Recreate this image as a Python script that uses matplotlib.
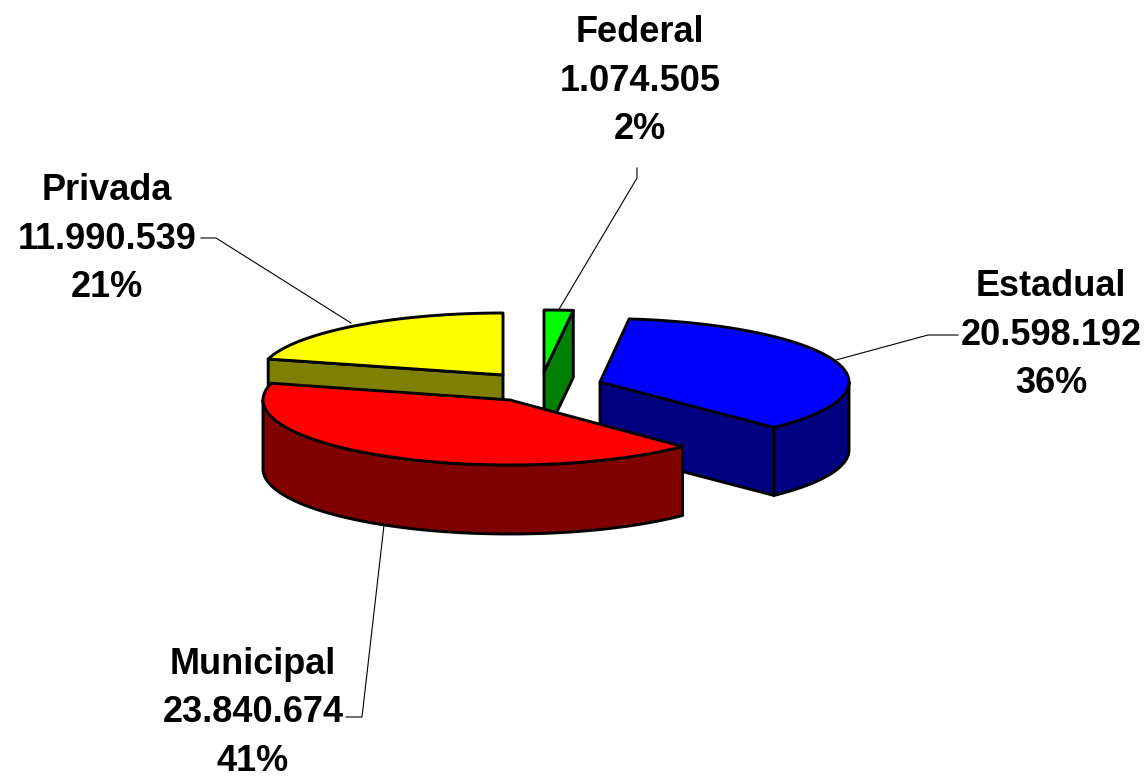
import numpy as np
import matplotlib
matplotlib.use("Agg")
import matplotlib.pyplot as plt
from matplotlib.patches import Polygon

categories = ["Federal", "Estadual", "Municipal", "Privada"]
values = [1074505, 20598192, 23840674, 11990539]

top_colors = ["#00FF00", "#0000FF", "#FF0000", "#FFFF00"]
side_colors = ["#008000", "#000080", "#800000", "#808000"]

# slice geometry in pixels: apex x, apex y, radius x, radius y, depth
geometry = {
    "Federal": (544, 372, 250, 62, 67),
    "Estadual": (600, 382, 249, 63.5, 68),
    "Municipal": (510, 400, 247, 65, 69),
    "Privada": (503, 375, 243, 62, 67),
}
label_pos = {
    "Federal": (640, 81),
    "Estadual": (1051, 335),
    "Municipal": (253, 713),
    "Privada": (107, 239),
}
leaders = {
    "Federal": [(637, 168), (637, 178), (558, 311)],
    "Estadual": [(958, 335), (928, 335), (836, 360)],
    "Municipal": [(346, 717), (362, 717), (384, 525)],
    "Privada": [(201, 238), (216, 238), (351, 323)],
}
draw_order = ["Privada", "Federal", "Estadual", "Municipal"]

LW = 2.1
fig = plt.figure(figsize=(11.47, 7.79), dpi=100)
ax = fig.add_axes([0, 0, 1, 1])
ax.set_xlim(0, 1147)
ax.set_ylim(779, 0)
ax.axis("off")

total = sum(values)
edges = np.concatenate([[0], np.cumsum(values)]) / total * 360.0


def rim(name, t):
    cx, cy, a, b, _ = geometry[name]
    t = np.radians(t)
    return np.column_stack([cx + a * np.sin(t), cy - b * np.cos(t)])


def face(poly, color, z):
    ax.add_patch(Polygon(poly, closed=True, facecolor=color, edgecolor="black",
                         linewidth=LW, joinstyle="round", zorder=z))


for order, name in enumerate(draw_order):
    i = categories.index(name)
    t0, t1 = edges[i], edges[i + 1]
    cx, cy, a, b, d = geometry[name]
    z = 2 + order * 5
    down = np.array([0, d])
    apex = np.array([[cx, cy]])
    # cut faces that look towards the viewer
    if 0 < t1 < 180:
        p = rim(name, [t1])
        face(np.vstack([apex, p, p + down, apex + down]), side_colors[i], z)
    if 180 < t0 < 360:
        p = rim(name, [t0])
        face(np.vstack([apex, p, p + down, apex + down]), side_colors[i], z)
    # outer wall, front half only
    lo, hi = max(t0, 90), min(t1, 270)
    if hi > lo:
        arc = rim(name, np.linspace(lo, hi, 80))
        face(np.vstack([arc, (arc + down)[::-1]]), side_colors[i], z + 1)
    # top face
    arc = rim(name, np.linspace(t0, t1, 120))
    face(np.vstack([apex, arc]), top_colors[i], z + 2)

for i, name in enumerate(categories):
    xs, ys = zip(*leaders[name])
    ax.plot(xs, ys, color="black", lw=0.8, zorder=1)
    value_text = f"{values[i]:,}".replace(",", ".")
    pct = round(values[i] / total * 100)
    x, y = label_pos[name]
    ax.text(x, y, f"{name}\n{value_text}\n{pct}%", ha="center", va="center",
            ma="center", family="Liberation Sans", fontweight="bold",
            fontsize=26, linespacing=1.5, color="black", zorder=50)

fig.savefig("out.png", dpi=100, facecolor="white")
